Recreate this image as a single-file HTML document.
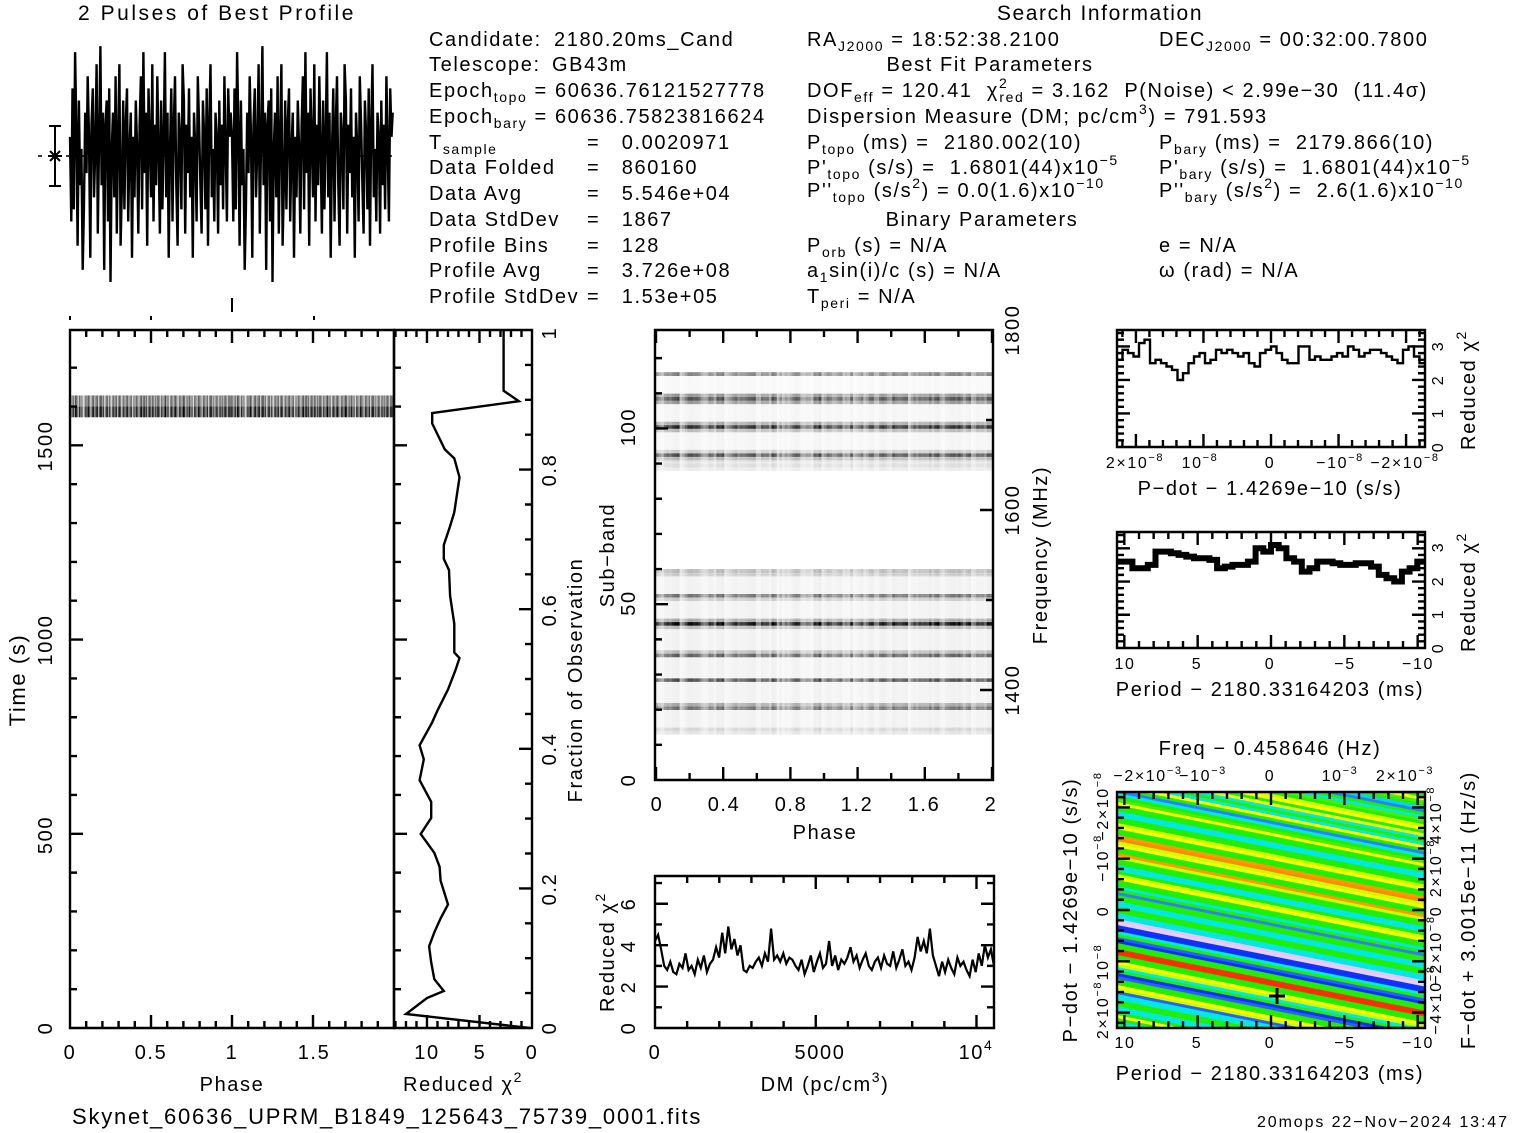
<!DOCTYPE html>
<html><head><meta charset="utf-8"><title>prepfold candidate plot</title>
<style>
html,body{margin:0;padding:0;background:#fff;}
svg{display:block;font-family:"Liberation Sans","DejaVu Sans",sans-serif;}
text{fill:#000;letter-spacing:1.6px;}
</style></head>
<body>
<svg id="fig" width="1517" height="1133" viewBox="0 0 1517 1133" xmlns="http://www.w3.org/2000/svg">
<defs>
<clipPath id="cmclip"><rect x="1117" y="792" width="308" height="236"/></clipPath>
</defs>
<rect x="0" y="0" width="1517" height="1133" fill="#fff"/>

<!-- header text -->
<g font-size="20">
<text x="78" y="20" font-size="21" textLength="277">2 Pulses of Best Profile</text>
<text x="1100" y="20" font-size="21" text-anchor="middle">Search Information</text>

<text x="429" y="46">Candidate:</text>
<text x="554" y="46">2180.20ms_Cand</text>
<text x="429" y="71">Telescope:</text>
<text x="552" y="71">GB43m</text>
<text x="429" y="97">Epoch<tspan font-size="14" dy="5">topo</tspan><tspan dy="-5"> = 60636.76121527778</tspan></text>
<text x="429" y="123">Epoch<tspan font-size="14" dy="5">bary</tspan><tspan dy="-5"> = 60636.75823816624</tspan></text>
<text x="429" y="149">T<tspan font-size="14" dy="5">sample</tspan></text>
<text x="587" y="149">=&#160;&#160;&#160;0.0020971</text>
<text x="429" y="174">Data Folded</text>
<text x="587" y="174">=&#160;&#160;&#160;860160</text>
<text x="429" y="200">Data Avg</text>
<text x="587" y="200">=&#160;&#160;&#160;5.546e+04</text>
<text x="429" y="226">Data StdDev</text>
<text x="587" y="226">=&#160;&#160;&#160;1867</text>
<text x="429" y="252">Profile Bins</text>
<text x="587" y="252">=&#160;&#160;&#160;128</text>
<text x="429" y="277">Profile Avg</text>
<text x="587" y="277">=&#160;&#160;&#160;3.726e+08</text>
<text x="429" y="303">Profile StdDev</text>
<text x="587" y="303">=&#160;&#160;&#160;1.53e+05</text>

<text x="807" y="46">RA<tspan font-size="14" dy="5">J2000</tspan><tspan dy="-5"> = 18:52:38.2100</tspan></text>
<text x="1159" y="46">DEC<tspan font-size="14" dy="5">J2000</tspan><tspan dy="-5"> = 00:32:00.7800</tspan></text>
<text x="990" y="71" text-anchor="middle">Best Fit Parameters</text>
<text x="807" y="97">DOF<tspan font-size="14" dy="5">eff</tspan><tspan dy="-5"> = 120.41&#160;&#160;χ</tspan><tspan font-size="14" dy="-9">2</tspan><tspan font-size="14" dx="-9" dy="14">red</tspan><tspan dy="-5"> = 3.162&#160;&#160;P(Noise) &lt; 2.99e−30&#160;&#160;(11.4σ)</tspan></text>
<text x="807" y="123">Dispersion Measure (DM; pc/cm<tspan font-size="14" dy="-9">3</tspan><tspan dy="9">) = 791.593</tspan></text>
<text x="807" y="149">P<tspan font-size="14" dy="5">topo</tspan><tspan dy="-5"> (ms) =&#160;&#160;2180.002(10)</tspan></text>
<text x="1159" y="149">P<tspan font-size="14" dy="5">bary</tspan><tspan dy="-5"> (ms) =&#160;&#160;2179.866(10)</tspan></text>
<text x="807" y="174">P'<tspan font-size="14" dy="5">topo</tspan><tspan dy="-5"> (s/s) =&#160;&#160;1.6801(44)x10</tspan><tspan font-size="14" dy="-9">−5</tspan></text>
<text x="1159" y="174">P'<tspan font-size="14" dy="5">bary</tspan><tspan dy="-5"> (s/s) =&#160;&#160;1.6801(44)x10</tspan><tspan font-size="14" dy="-9">−5</tspan></text>
<text x="807" y="197">P''<tspan font-size="14" dy="5">topo</tspan><tspan dy="-5"> (s/s</tspan><tspan font-size="14" dy="-9">2</tspan><tspan dy="9">) = 0.0(1.6)x10</tspan><tspan font-size="14" dy="-9">−10</tspan></text>
<text x="1159" y="197">P''<tspan font-size="14" dy="5">bary</tspan><tspan dy="-5"> (s/s</tspan><tspan font-size="14" dy="-9">2</tspan><tspan dy="9">) =&#160;&#160;2.6(1.6)x10</tspan><tspan font-size="14" dy="-9">−10</tspan></text>
<text x="982" y="226" text-anchor="middle">Binary Parameters</text>
<text x="807" y="252">P<tspan font-size="14" dy="5">orb</tspan><tspan dy="-5"> (s) = N/A</tspan></text>
<text x="1159" y="252">e = N/A</text>
<text x="807" y="277">a<tspan font-size="14" dy="5">1</tspan><tspan dy="-5">sin(i)/c (s) = N/A</tspan></text>
<text x="1159" y="277">ω (rad) = N/A</text>
<text x="807" y="303">T<tspan font-size="14" dy="5">peri</tspan><tspan dy="-5"> = N/A</tspan></text>
</g>

<!-- axis labels -->
<g font-size="20">
<text x="70" y="1059" text-anchor="middle">0</text>
<text x="151" y="1059" text-anchor="middle">0.5</text>
<text x="232" y="1059" text-anchor="middle">1</text>
<text x="314" y="1059" text-anchor="middle">1.5</text>
<text x="232" y="1091" text-anchor="middle">Phase</text>
<text transform="rotate(-90 52 1028)" x="52" y="1028" text-anchor="middle">0</text>
<text transform="rotate(-90 52 835)" x="52" y="835" text-anchor="middle">500</text>
<text transform="rotate(-90 52 640)" x="52" y="640" text-anchor="middle">1000</text>
<text transform="rotate(-90 52 446)" x="52" y="446" text-anchor="middle">1500</text>
<text transform="rotate(-90 25 680)" x="25" y="680" text-anchor="middle" font-size="22">Time (s)</text>

<text x="427" y="1059" text-anchor="middle">10</text>
<text x="480" y="1059" text-anchor="middle">5</text>
<text x="532" y="1059" text-anchor="middle">0</text>
<text x="463" y="1091" text-anchor="middle">Reduced χ<tspan font-size="14" dy="-9">2</tspan></text>
<text transform="rotate(-90 556 1028)" x="556" y="1028" text-anchor="middle">0</text>
<text transform="rotate(-90 556 889)" x="556" y="889" text-anchor="middle">0.2</text>
<text transform="rotate(-90 556 749)" x="556" y="749" text-anchor="middle">0.4</text>
<text transform="rotate(-90 556 610)" x="556" y="610" text-anchor="middle">0.6</text>
<text transform="rotate(-90 556 470)" x="556" y="470" text-anchor="middle">0.8</text>
<text transform="rotate(-90 556 333)" x="556" y="333" text-anchor="middle">1</text>
<text transform="rotate(-90 582 680)" x="582" y="680" text-anchor="middle">Fraction of Observation</text>

<text x="657" y="811" text-anchor="middle">0</text>
<text x="724" y="811" text-anchor="middle">0.4</text>
<text x="791" y="811" text-anchor="middle">0.8</text>
<text x="857" y="811" text-anchor="middle">1.2</text>
<text x="924" y="811" text-anchor="middle">1.6</text>
<text x="991" y="811" text-anchor="middle">2</text>
<text x="825" y="839" text-anchor="middle">Phase</text>
<text transform="rotate(-90 635 780)" x="635" y="780" text-anchor="middle">0</text>
<text transform="rotate(-90 635 603)" x="635" y="603" text-anchor="middle">50</text>
<text transform="rotate(-90 635 427)" x="635" y="427" text-anchor="middle">100</text>
<text transform="rotate(-90 614 555)" x="614" y="555" text-anchor="middle">Sub−band</text>
<text transform="rotate(-90 1019 690)" x="1019" y="690" text-anchor="middle">1400</text>
<text transform="rotate(-90 1019 510)" x="1019" y="510" text-anchor="middle">1600</text>
<text transform="rotate(-90 1019 330)" x="1019" y="330" text-anchor="middle">1800</text>
<text transform="rotate(-90 1047 555)" x="1047" y="555" text-anchor="middle">Frequency (MHz)</text>

<text x="655" y="1059" text-anchor="middle">0</text>
<text x="820" y="1059" text-anchor="middle">5000</text>
<text x="976" y="1059" text-anchor="middle">10<tspan font-size="14" dy="-9">4</tspan></text>
<text x="825" y="1091" text-anchor="middle">DM (pc/cm<tspan font-size="14" dy="-9">3</tspan><tspan dy="9">)</tspan></text>
<text transform="rotate(-90 635 1028)" x="635" y="1028" text-anchor="middle">0</text>
<text transform="rotate(-90 635 987)" x="635" y="987" text-anchor="middle">2</text>
<text transform="rotate(-90 635 946)" x="635" y="946" text-anchor="middle">4</text>
<text transform="rotate(-90 635 904)" x="635" y="904" text-anchor="middle">6</text>
<text transform="rotate(-90 614 952)" x="614" y="952" text-anchor="middle">Reduced χ<tspan font-size="14" dy="-9">2</tspan></text>

<g font-size="16">
<text x="1135" y="468" text-anchor="middle">2×10<tspan font-size="11" dy="-7">−8</tspan></text>
<text x="1200" y="468" text-anchor="middle">10<tspan font-size="11" dy="-7">−8</tspan></text>
<text x="1270" y="468" text-anchor="middle">0</text>
<text x="1340" y="468" text-anchor="middle">−10<tspan font-size="11" dy="-7">−8</tspan></text>
<text x="1405" y="468" text-anchor="middle">−2×10<tspan font-size="11" dy="-7">−8</tspan></text>
<text x="1125" y="669" text-anchor="middle">10</text>
<text x="1197" y="669" text-anchor="middle">5</text>
<text x="1270" y="669" text-anchor="middle">0</text>
<text x="1345" y="669" text-anchor="middle">−5</text>
<text x="1418" y="669" text-anchor="middle">−10</text>
<text transform="rotate(-90 1443 447)" x="1443" y="447" text-anchor="middle">0</text>
<text transform="rotate(-90 1443 413)" x="1443" y="413" text-anchor="middle">1</text>
<text transform="rotate(-90 1443 380)" x="1443" y="380" text-anchor="middle">2</text>
<text transform="rotate(-90 1443 346)" x="1443" y="346" text-anchor="middle">3</text>
<text transform="rotate(-90 1443 648)" x="1443" y="648" text-anchor="middle">0</text>
<text transform="rotate(-90 1443 614)" x="1443" y="614" text-anchor="middle">1</text>
<text transform="rotate(-90 1443 581)" x="1443" y="581" text-anchor="middle">2</text>
<text transform="rotate(-90 1443 547)" x="1443" y="547" text-anchor="middle">3</text>
<text x="1125" y="1048" text-anchor="middle">10</text>
<text x="1197" y="1048" text-anchor="middle">5</text>
<text x="1270" y="1048" text-anchor="middle">0</text>
<text x="1345" y="1048" text-anchor="middle">−5</text>
<text x="1418" y="1048" text-anchor="middle">−10</text>
<text x="1148" y="781" text-anchor="middle">−2×10<tspan font-size="11" dy="-7">−3</tspan></text>
<text x="1203" y="781" text-anchor="middle">−10<tspan font-size="11" dy="-7">−3</tspan></text>
<text x="1270" y="781" text-anchor="middle">0</text>
<text x="1340" y="781" text-anchor="middle">10<tspan font-size="11" dy="-7">−3</tspan></text>
<text x="1405" y="781" text-anchor="middle">2×10<tspan font-size="11" dy="-7">−3</tspan></text>
<text transform="rotate(-90 1108 1010)" x="1108" y="1010" text-anchor="middle">2×10<tspan font-size="11" dy="-7">−8</tspan></text>
<text transform="rotate(-90 1108 962)" x="1108" y="962" text-anchor="middle">10<tspan font-size="11" dy="-7">−8</tspan></text>
<text transform="rotate(-90 1108 911)" x="1108" y="911" text-anchor="middle">0</text>
<text transform="rotate(-90 1108 858)" x="1108" y="858" text-anchor="middle">−10<tspan font-size="11" dy="-7">−8</tspan></text>
<text transform="rotate(-90 1108 806)" x="1108" y="806" text-anchor="middle">−2×10<tspan font-size="11" dy="-7">−8</tspan></text>
<text transform="rotate(-90 1441 1000)" x="1441" y="1000" text-anchor="middle">−4×10<tspan font-size="11" dy="-7">−8</tspan></text>
<text transform="rotate(-90 1441 950)" x="1441" y="950" text-anchor="middle">−2×10<tspan font-size="11" dy="-7">−8</tspan></text>
<text transform="rotate(-90 1441 911)" x="1441" y="911" text-anchor="middle">0</text>
<text transform="rotate(-90 1441 868)" x="1441" y="868" text-anchor="middle">2×10<tspan font-size="11" dy="-7">−8</tspan></text>
<text transform="rotate(-90 1441 815)" x="1441" y="815" text-anchor="middle">4×10<tspan font-size="11" dy="-7">−8</tspan></text>
</g>
<text x="1270" y="495" text-anchor="middle">P−dot − 1.4269e−10 (s/s)</text>
<text x="1270" y="696" text-anchor="middle">Period − 2180.33164203 (ms)</text>
<text transform="rotate(-90 1475 390)" x="1475" y="390" text-anchor="middle">Reduced χ<tspan font-size="14" dy="-9">2</tspan></text>
<text transform="rotate(-90 1475 592)" x="1475" y="592" text-anchor="middle">Reduced χ<tspan font-size="14" dy="-9">2</tspan></text>
<text x="1270" y="755" text-anchor="middle">Freq − 0.458646 (Hz)</text>
<text x="1270" y="1080" text-anchor="middle">Period − 2180.33164203 (ms)</text>
<text transform="rotate(-90 1077 910)" x="1077" y="910" text-anchor="middle">P−dot − 1.4269e−10 (s/s)</text>
<text transform="rotate(-90 1475 910)" x="1475" y="910" text-anchor="middle">F−dot + 3.0015e−11 (Hz/s)</text>

<text x="72" y="1124" font-size="22" textLength="630">Skynet_60636_UPRM_B1849_125643_75739_0001.fits</text>
<text x="1257" y="1127" font-size="16" textLength="250" style="letter-spacing:0">20mops 22−Nov−2024 13:47</text>
</g>

<g id="plots"></g>
</svg>

<script>
// ---------- data ----------
const profile = [0.2,-0.5,0.6,-0.4,0.9,0.3,-0.7,0.5,-0.2,0.1,-0.9,-0.4,0.4,-0.1,0.7,0.2,
-0.8,0.3,0.6,-0.3,0.1,0.8,-0.6,0.2,0.95,-0.2,0.4,-0.9,0.3,0.5,-0.5,0.6,
-1.0,0.1,0.4,-0.3,0.7,-0.6,0.2,0.8,-0.7,-0.2,0.5,-0.4,0.3,0.6,-0.5,0.1,
0.4,-0.8,0.2,-0.3,0.5,0.1,-0.6,0.3,0.7,-0.4,0.9,-0.1,0.4,-0.7,0.6,0.2,
-0.3,0.8,-0.5,0.3,-0.2,0.7,0.1,-0.6,0.5,-0.4,0.2,0.9,-0.3,0.4,-0.8,0.1,
0.6,-0.5,0.3,0.7,-0.2,-0.7,0.4,0.2,-0.4,0.8,0.5,-0.6,0.3,-0.1,0.6,-0.3,
0.2,-0.8,0.4,0.1,-0.5,0.7,0.3,-0.2,-0.6,0.5,0.2,-0.4,0.6,-0.7,0.3,0.8,
-0.3,0.1,-0.5,0.4,0.2,-0.6,0.5,-0.2,0.3,-0.4,0.7,0.1,-0.5,0.6,0.2,0.4];
const timeRowLevel = [0.02,0.02,0.02,0.02,0.02,0.02,0.02,0.02,0.02,0.02,0.02,0.02,0.02,0.02,0.02,0.02,
0.02,0.02,0.02,0.02,0.02,0.02,0.02,0.02,0.02,0.02,0.02,0.02,0.02,0.02,0.02,0.02,
0.02,0.02,0.02,0.02,0.02,0.02,0.02,0.02,0.02,0.02,0.02,0.02,0.02,0.02,0.02,0.02,
0.02,0.02,0.02,0.02,0.02,0.02,0.02,0.02,0.6,0.4,0.03,0.03,0.03,0.03,0.03,0.03];
const chiTimeFrac = [0,0.02,0.043,0.053,0.07,0.094,0.117,0.137,0.157,0.177,0.211,0.231,0.251,0.278,0.301,0.324,0.355,0.385,0.405,0.438,0.455,0.485,0.512,0.530,0.538,0.579,0.619,0.656,0.672,0.692,0.719,0.739,0.789,0.816,0.829,0.866,0.881,0.898,0.913,1.0];
const chiTimeVal = [0.2,12.0,10.0,8.4,9.3,9.6,9.8,9.3,8.7,8.0,8.7,8.8,9.3,10.6,9.6,9.6,10.7,10.3,10.7,9.5,9.0,8.0,7.3,6.9,7.4,7.4,7.8,7.9,8.4,8.4,7.8,7.4,6.9,7.4,8.3,9.5,9.5,1.25,2.7,2.7];
const subbandLevel = [0,0,0,0,0,0,0,0,0,0,
0,0,0,.08,.12,.04,.04,.04,.04,.04,
.4,.25,.04,.04,.04,.04,.04,.04,.5,.04,
.04,.04,.04,.04,.04,.45,.2,.04,.04,.04,
.04,.04,.04,.2,.7,.25,.04,.04,.04,.04,
.04,.15,.4,.04,.04,.04,.04,.04,.15,.2,
0,0,0,0,0,0,0,0,0,0,
0,0,0,0,0,0,0,0,0,0,
0,0,0,0,0,0,0,0,.06,.1,
.08,.2,.5,.15,.03,.03,.03,.03,.03,.2,
.6,.25,.03,.03,.03,.03,.03,.3,.5,.3,
.02,.02,.02,.02,.02,.35,0,0,0,0,
0,0,0,0,0,0,0,0];
const dmChi = [4.2,4.5,3.8,3.0,2.8,3.2,2.7,2.6,3.1,2.9,3.6,2.8,3.0,2.6,3.3,2.9,3.5,2.7,3.1,3.3,
3.9,3.4,4.6,3.6,4.9,3.8,4.3,3.5,4.0,2.8,2.7,3.0,2.9,3.2,3.4,3.0,3.6,3.2,4.8,3.3,
3.5,3.2,3.6,3.1,3.4,3.3,3.0,2.8,3.3,2.6,3.0,3.5,2.7,3.2,3.6,2.9,3.1,4.2,3.0,3.5,
2.8,3.3,3.1,3.4,3.9,3.2,3.5,2.9,3.3,3.6,3.0,2.8,3.2,3.4,2.9,3.5,3.1,3.0,3.7,2.9,
3.3,3.8,3.0,3.2,2.8,3.4,4.4,3.7,4.2,3.6,4.8,3.5,3.0,2.5,3.2,2.7,3.3,2.9,2.6,3.4,
3.0,3.2,2.8,2.5,3.3,2.7,3.6,3.0,4.0,3.4,3.8,3.0];
const pdotChi = [2.6,2.9,2.8,2.7,3.1,3.2,2.5,2.6,2.5,2.4,2.3,2.0,2.2,2.5,2.7,2.8,2.5,2.6,2.9,2.8,2.9,2.8,2.7,2.8,2.5,2.4,2.8,2.9,3.0,2.8,2.6,2.5,2.5,3.0,3.0,2.6,2.7,2.6,2.6,2.7,2.8,2.7,3.0,2.9,2.7,2.8,2.9,2.9,2.8,2.7,2.6,2.5,2.9,3.0,2.7,2.5];
const periodChi = [2.6,2.6,2.4,2.4,2.5,2.9,2.9,2.85,2.8,2.75,2.7,2.7,2.65,2.4,2.45,2.5,2.5,2.6,3.0,2.9,3.1,3.0,2.7,2.6,2.3,2.4,2.6,2.6,2.55,2.5,2.5,2.55,2.55,2.45,2.2,2.1,2.0,2.3,2.4,2.6];
const stripeColors = ['#00e8e0','#22ee00','#ffff00','#44f000','#22ee00','#00d8e8','#2a80ff','#22ee00','#00e8e0','#44f000','#22ee00','#ccff00','#ffff00','#22ee00','#f0ff00','#00e8e0','#22ee00','#00e8e0','#ffff00','#22ee00','#2a80ff','#00e8e0','#22ee00','#44f000','#ffff00','#22ee00','#22ee00','#00e8e0','#00e8e0','#22ee00','#22ee00','#ccff00','#ffff00','#22ee00','#22ee00','#ff9a00','#ff8c00','#ccff00','#ffff00','#22ee00','#22ee00','#ff9a00','#ccff00','#22ee00','#22ee00','#00e8e0','#00e8e0','#22ee00','#ccff00','#ffff00','#22ee00','#22ee00','#00e8e0','#22ee00','#2a80ff','#22ee00','#22ee00','#00e8e0','#00e8e0','#22ee00','#22ee00','#00e8e0','#00e8e0','#e0c8ff','#e6d0ff','#1030ff','#1030ff','#00e8e0','#22ee00','#2a60ff','#1030ff','#22ee00','#22ee00','#ff3000','#ff3000','#22ee00','#22ee00','#ffff00','#ccff00','#00e8e0','#22ee00','#1030ff','#2a60ff','#22ee00','#22ee00','#ffff00','#ccff00','#2a60ff','#00e8e0','#00e8e0','#22ee00','#22ee00','#00e8e0','#00e8e0','#22ee00','#ffff00','#22ee00','#00e8e0','#22ee00','#00e8e0'];

// ---------- helpers ----------
const NS = 'http://www.w3.org/2000/svg';
const root = document.getElementById('plots');
function mk(tag, attrs, parent){
  const e = document.createElementNS(NS, tag);
  for (const k in attrs) e.setAttribute(k, attrs[k]);
  (parent || root).appendChild(e);
  return e;
}
function lin(d0,d1,r0,r1){ return v => r0 + (v-d0)*(r1-r0)/(d1-d0); }
function tickPath(side, x0, y0, x1, y1, positions, len){
  let d = '';
  positions.forEach(p => {
    if (side==='left')   d += `M${x0},${p}h${len}`;
    if (side==='right')  d += `M${x1},${p}h${-len}`;
    if (side==='bottom') d += `M${p},${y1}v${-len}`;
    if (side==='top')    d += `M${p},${y0}v${len}`;
  });
  return d;
}
function range(a,b,s){ const r=[]; for(let v=a; v<=b+1e-9; v+=s) r.push(v); return r; }
function axes(name, x0,y0,x1,y1, spec){
  let d = `M${x0},${y0}H${x1}V${y1}H${x0}Z`;
  spec.forEach(s => {
    d += tickPath(s.side, x0,y0,x1,y1, s.major.map(s.f), 13);
    d += tickPath(s.side, x0,y0,x1,y1, s.minor.map(s.f), 7);
  });
  const el = mk('path', {d:d, fill:'none', stroke:'#000', 'stroke-width':2.4});
  
  
}

// ---------- profile (2 pulses) ----------
const px = lin(0, 256, 70, 394);
const py = lin(-1, 1, 282, 40);
let pd = '';
for (let i=0;i<256;i++){ pd += (i?'L':'M') + px(i).toFixed(1) + ',' + py(profile[i%128]).toFixed(1); }
const profLine = mk('path', {d:pd, fill:'none', stroke:'#000', 'stroke-width':2.4});


const baseLine = mk('line', {x1:38, y1:156, x2:394, y2:156, stroke:'#000', 'stroke-width':1.5, 'stroke-dasharray':'4 10'});


const errBar = mk('path', {d:'M55,126V186M49,126H61M49,186H61M50,151L60,161M60,151L50,161M48,156H62', stroke:'#000', 'stroke-width':2, fill:'none'});


const profTicks = mk('path', {d:'M70,316v4M151,316v4M232,298v14M314,316v4', stroke:'#000', 'stroke-width':2});



// ---------- time vs phase ----------
const tpx = lin(0, 2, 70, 394);
const tpy = lin(0, 1797, 1028, 330);
const rowH = 698/64;
const tpG = mk('g', {});


timeRowLevel.forEach((lv, r) => {
  if (lv < 0.05) return;
  for (let c=0;c<256;c++){
    const v = Math.max(0, Math.min(1, lv*(1 + 0.8*profile[c%128])));
    const g = Math.round(255*(1-v));
    const cell = mk('rect', {x:tpx(c/128).toFixed(2), y:(1028-(r+1)*rowH).toFixed(2), width:(324/256+0.4).toFixed(2), height:rowH.toFixed(2), fill:`rgb(${g},${g},${g})`}, tpG);
    
    
  }
});
const tMaj=[0,500,1000,1500], tMin=range(0,1700,100);
const pMaj=[0,0.5,1,1.5], pMin=range(0,2,0.1);
axes('time-phase-axes', 70,330,394,1028, [
  {side:'left', major:tMaj, minor:tMin, f:tpy},
  {side:'bottom', major:pMaj, minor:pMin, f:tpx},
  {side:'top', major:pMaj, minor:pMin, f:tpx}
]);

// ---------- chi2 vs time ----------
const cx = lin(0, 13.14, 532, 394);
const cy = lin(0, 1, 1028, 330);
let cd = '';
chiTimeFrac.forEach((f,i)=>{ cd += (i?'L':'M') + cx(chiTimeVal[i]).toFixed(1) + ',' + cy(f).toFixed(1); });
const chiLine = mk('path', {d:cd, fill:'none', stroke:'#000', 'stroke-width':2.4});


axes('chi-time-axes', 394,330,532,1028, [
  {side:'bottom', major:[0,5,10], minor:range(0,13,1), f:cx},
  {side:'top', major:[0,5,10], minor:range(0,13,1), f:cx},
  {side:'right', major:range(0,1,0.2), minor:range(0,1,0.05), f:cy},
  {side:'left', major:tMaj, minor:tMin, f:tpy}
]);

// ---------- subbands ----------
const sx = lin(0, 2, 656, 992);
const sy = lin(0, 128, 780, 330);
const sbG = mk('g', {});


subbandLevel.forEach((lv, s) => {
  if (lv <= 0) return;
  const y0 = sy(s+1), h = sy(s)-sy(s+1);
  for (let c=0;c<256;c+=2){
    const v = Math.max(0, Math.min(1, lv*(1 + 0.5*profile[(c/2*3)%128])));
    const g = Math.round(255*(1-v));
    const cell = mk('rect', {x:sx(c/128).toFixed(2), y:y0.toFixed(2), width:(336/128+0.3).toFixed(2), height:(h+0.3).toFixed(2), fill:`rgb(${g},${g},${g})`}, sbG);
    
    
  }
});
const fy = lin(1300, 1800, 780, 330);
axes('subband-axes', 655,330,993,780, [
  {side:'left', major:[0,50,100], minor:range(0,120,10), f:sy},
  {side:'bottom', major:range(0,2,0.4), minor:range(0,2,0.2), f:sx},
  {side:'top', major:range(0,2,0.4), minor:range(0,2,0.2), f:sx},
  {side:'right', major:[1400,1600,1800], minor:range(1400,1800,100), f:fy}
]);

// ---------- DM curve ----------
const dx = lin(0, 10545, 655, 994);
const dy = lin(0, 7.34, 1028, 876);
let dd = '';
dmChi.forEach((v,i)=>{ dd += (i?'L':'M') + dx(i*10545/(dmChi.length-1)).toFixed(1) + ',' + dy(v).toFixed(1); });
const dmLine = mk('path', {d:dd, fill:'none', stroke:'#000', 'stroke-width':2.2});


axes('dm-axes', 655,876,994,1028, [
  {side:'bottom', major:[0,5000,10000], minor:range(0,10000,1000), f:dx},
  {side:'top', major:[0,5000,10000], minor:range(0,10000,1000), f:dx},
  {side:'left', major:[0,2,4,6], minor:range(0,7,1), f:dy},
  {side:'right', major:[0,2,4,6], minor:range(0,7,1), f:dy}
]);

// ---------- P-dot chi ----------
const pdx = lin(2.28, -2.28, 1117, 1425);
const pdy = lin(0, 3.49, 447, 330);
function stepPath(arr, fx, fy, lo, hi){
  let d=''; const n=arr.length;
  arr.forEach((v,i)=>{
    const xa = fx(lo + (hi-lo)*i/n), xb = fx(lo + (hi-lo)*(i+1)/n);
    d += (i?'L':'M') + xa.toFixed(1)+','+fy(v).toFixed(1) + 'L' + xb.toFixed(1)+','+fy(v).toFixed(1);
  });
  return d;
}
const pdLine = mk('path', {d:stepPath(pdotChi, pdx, pdy, 2.28, -2.28), fill:'none', stroke:'#000', 'stroke-width':2.4});


axes('pdot-axes', 1117,330,1425,447, [
  {side:'bottom', major:[-2,-1,0,1,2], minor:range(-2.2,2.2,0.2), f:pdx},
  {side:'top', major:[-2,-1,0,1,2], minor:range(-2.2,2.2,0.2), f:pdx},
  {side:'left', major:[0,1,2,3], minor:range(0,3.4,0.2), f:pdy},
  {side:'right', major:[0,1,2,3], minor:range(0,3.4,0.2), f:pdy}
]);

// ---------- Period chi ----------
const prx = lin(10.5, -10.5, 1117, 1425);
const pry = lin(0, 3.49, 648, 532);
const prLine = mk('path', {d:stepPath(periodChi, prx, pry, 10.5, -10.5), fill:'none', stroke:'#000', 'stroke-width':6});


axes('period-axes', 1117,532,1425,648, [
  {side:'bottom', major:[-10,-5,0,5,10], minor:range(-10,10,1), f:prx},
  {side:'top', major:[-10,-5,0,5,10], minor:range(-10,10,1), f:prx},
  {side:'left', major:[0,1,2,3], minor:range(0,3.4,0.2), f:pry},
  {side:'right', major:[0,1,2,3], minor:range(0,3.4,0.2), f:pry}
]);

// ---------- P / P-dot colormap ----------
const cmG = mk('g', {'clip-path':'url(#cmclip)'});


const su = lin(0, stripeColors.length, 730, 1030);
stripeColors.forEach((col,i)=>{
  const u0 = su(i), u1 = su(i+1)+0.6;
  const st = mk('polygon', {points:`1117,${u0} 1425,${u0+61.6} 1425,${u1+61.6} 1117,${u1}`, fill:col}, cmG);
  
  
});
const bestMark = mk('path', {d:'M1277,988v16M1269,996h16', stroke:'#000', 'stroke-width':3});


const cmy = lin(-2.3, 2.3, 792, 1028);
axes('colormap-axes', 1117,792,1425,1028, [
  {side:'bottom', major:[-10,-5,0,5,10], minor:range(-10,10,1), f:prx},
  {side:'top', major:[-10,-5,0,5,10], minor:range(-10,10,1), f:prx},
  {side:'left', major:[-2,-1,0,1,2], minor:range(-2.2,2.2,0.2), f:cmy},
  {side:'right', major:[-2,-1,0,1,2], minor:range(-2.2,2.2,0.2), f:cmy}
]);
</script>
</body></html>
